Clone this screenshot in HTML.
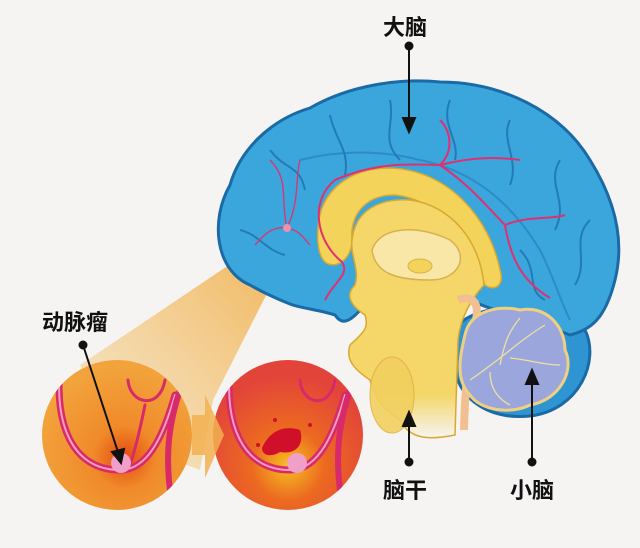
<!DOCTYPE html>
<html><head><meta charset="utf-8"><style>
html,body{margin:0;padding:0;background:#f5f4f2;}
svg{display:block}
text{font-family:"Liberation Sans","Noto Sans CJK SC",sans-serif;font-weight:bold;font-size:22px;fill:#111}
</style></head><body>
<svg width="640" height="548" viewBox="0 0 640 548" xmlns="http://www.w3.org/2000/svg">
<defs>
<linearGradient id="cone" x1="1" y1="0" x2="0" y2="1">
<stop offset="0" stop-color="#f0a838" stop-opacity="0.9"/>
<stop offset="1" stop-color="#f6d9a6" stop-opacity="0.5"/>
</linearGradient>
<radialGradient id="c1" cx="0.55" cy="0.65" r="0.6">
<stop offset="0" stop-color="#e44a10"/><stop offset="0.35" stop-color="#f08a2a"/><stop offset="1" stop-color="#f2a33c"/>
</radialGradient>
<radialGradient id="c2" cx="0.5" cy="0.7" r="0.6">
<stop offset="0" stop-color="#f6c020"/><stop offset="0.4" stop-color="#ec6a20"/><stop offset="1" stop-color="#e2443a"/>
</radialGradient>
<linearGradient id="stem" x1="0" y1="0" x2="0" y2="1">
<stop offset="0.82" stop-color="#f4d768"/><stop offset="1" stop-color="#f5f4f2"/>
</linearGradient>
<clipPath id="cl1"><circle cx="117" cy="435" r="75"/></clipPath>
<clipPath id="cl2"><circle cx="288" cy="435" r="75"/></clipPath>
</defs>

<!-- cone -->
<polygon points="287,226 296,236 213,400 200,470 120,440 80,365" fill="url(#cone)"/>

<!-- cerebellum lower blue lobe -->
<path d="M455,330 C470,300 560,300 585,330 C600,360 580,410 530,416 C490,420 460,400 455,370Z" fill="#2f95d2" stroke="#1a6aa6" stroke-width="3"/>
<!-- cerebrum -->
<path d="M250,285 C215,270 210,220 230,185 C240,150 270,120 310,108 C350,85 400,78 440,82 C500,82 560,110 590,160 C615,200 625,240 615,280 C605,320 590,330 570,335 C530,320 490,310 470,300 C440,290 400,280 370,300 C355,315 345,330 335,315 C320,310 300,308 290,304 C275,298 262,292 250,285Z" fill="#3aa6dc" stroke="#1a6aa6" stroke-width="3"/>
<!-- gyri lines -->
<g fill="none" stroke="#1a6aa6" stroke-width="2" opacity="0.7">
<path d="M270,150 C285,170 300,165 305,190"/><path d="M330,115 C335,140 350,150 345,175"/><path d="M390,100 C395,125 380,140 400,160"/>
<path d="M450,100 C440,125 460,140 455,160"/><path d="M510,120 C500,140 520,160 510,185"/><path d="M560,160 C545,185 570,200 555,230"/>
<path d="M590,220 C570,240 590,260 575,285"/><path d="M240,230 C260,235 265,250 285,255"/><path d="M520,250 C540,270 525,290 545,300"/>
<path d="M300,160 C340,150 380,150 420,160 C470,170 510,200 540,250 C555,280 560,300 570,320" opacity="0.6"/>
</g>
<!-- corpus callosum -->
<path d="M318,228 C320,190 350,168 390,168 C450,170 490,220 500,270 C505,285 495,292 485,285 C470,250 445,200 395,195 C365,195 350,215 352,240 C352,260 335,270 325,262 C318,255 317,240 318,228Z" fill="#f4d35a" stroke="#d9a830" stroke-width="1.5"/>
<!-- thalamus / inner -->
<path d="M352,240 C355,210 380,198 410,200 C450,205 480,240 484,285 C470,300 460,320 458,340 L455,435 C430,440 410,440 400,420 C385,410 375,400 370,380 C355,370 345,360 350,345 C360,335 370,330 365,315 C350,305 345,295 355,285 C360,270 350,255 352,240Z" fill="url(#stem)" stroke="#d9a830" stroke-width="1.5"/>
<path d="M372,250 C380,225 420,225 450,240 C470,255 460,280 430,280 C400,280 375,275 372,250Z" fill="#f8e7a6" stroke="#d9b050" stroke-width="1.5"/>
<ellipse cx="420" cy="266" rx="12" ry="7" fill="#f4d35a" stroke="#d9b050"/>
<ellipse cx="392" cy="395" rx="22" ry="38" fill="#f2d060" stroke="#e0b040" opacity="0.9"/>
<path d="M458,300 C470,295 480,300 476,320 C470,350 465,380 464,430" fill="none" stroke="#f2c090" stroke-width="8"/>
<!-- cerebellum -->
<path d="M465,335 C470,310 500,305 520,310 C545,305 565,325 565,350 C575,370 560,400 530,405 C510,415 480,410 470,395 C455,380 460,355 465,335Z" fill="#9aa6dc" stroke="#f0d080" stroke-width="3"/>
<g fill="none" stroke="#f0e0a0" stroke-width="1.3">
<path d="M470,380 C500,360 520,340 545,325"/><path d="M500,365 C505,340 510,330 520,318"/><path d="M510,358 C530,360 545,365 560,365"/><path d="M490,372 C490,390 500,400 510,405"/>
</g>
<!-- arteries -->
<g fill="none" stroke="#e03070" stroke-width="2">
<path d="M325,300 C335,280 350,275 342,262 C315,240 310,200 335,180 C380,160 420,165 440,165 C470,185 490,210 505,225 C510,255 520,280 550,298"/>
<path d="M440,165 C455,150 450,130 440,120"/><path d="M440,165 C480,155 505,158 520,160"/><path d="M505,225 C530,215 550,220 565,215"/>
</g>
<g fill="none" stroke="#e03070" stroke-width="1.3">
<path d="M287,228 C280,200 290,180 270,160"/><path d="M287,228 C300,200 295,180 300,160"/><path d="M287,228 C270,225 260,240 255,245"/><path d="M287,228 C300,230 305,240 310,245"/>
</g>
<circle cx="287" cy="228" r="4" fill="#f090a8"/>

<!-- circles -->
<circle cx="117" cy="435" r="75" fill="url(#c1)"/>
<g clip-path="url(#cl1)" fill="none" stroke-linecap="round">
<path d="M60,370 C55,420 70,470 120,470 C150,470 165,430 175,395" stroke="#d82a6a" stroke-width="7"/>
<path d="M60,370 C55,420 70,470 120,470 C150,470 165,430 175,395" stroke="#f6a0c0" stroke-width="2"/>
<path d="M128,380 C130,405 160,410 165,380" stroke="#d82a6a" stroke-width="3"/>
<path d="M145,405 C140,430 135,450 130,465" stroke="#d82a6a" stroke-width="3"/>
<path d="M180,390 C170,420 165,450 170,490" stroke="#d82a6a" stroke-width="6"/>
</g>
<circle cx="121" cy="463" r="10" fill="#f0a0c8"/>
<circle cx="288" cy="435" r="75" fill="url(#c2)"/>
<g clip-path="url(#cl2)" fill="none" stroke-linecap="round">
<path d="M230,370 C225,420 240,470 290,470 C320,470 335,430 345,395" stroke="#d82a6a" stroke-width="7"/>
<path d="M230,370 C225,420 240,470 290,470 C320,470 335,430 345,395" stroke="#f6a0c0" stroke-width="2"/>
<path d="M300,380 C302,405 330,410 335,380" stroke="#d82a6a" stroke-width="3"/>
<path d="M350,390 C340,420 335,450 340,490" stroke="#d82a6a" stroke-width="6"/>
</g>
<circle cx="297" cy="463" r="10" fill="#f0a0c8"/>
<path d="M262,448 C270,430 285,425 300,430 C305,445 295,455 280,452 C270,458 262,455 262,448Z" fill="#d0102a"/>
<circle cx="258" cy="445" r="2" fill="#d0102a"/><circle cx="310" cy="425" r="2" fill="#d0102a"/><circle cx="275" cy="420" r="2" fill="#d0102a"/>
<!-- arrow between -->
<polygon points="192,415 205,415 205,395 224,435 205,478 205,455 192,455" fill="#f2b050" opacity="0.85"/>

<!-- leader lines -->
<g stroke="#111" stroke-width="2" fill="#111">
<line x1="409" y1="46" x2="409" y2="120"/><polygon points="403,118 415,118 409,132"/><circle cx="409" cy="46" r="3.5"/>
<line x1="409" y1="462" x2="409" y2="425"/><polygon points="403,426 415,426 409,412"/><circle cx="409" cy="462" r="3.5"/>
<line x1="532" y1="462" x2="532" y2="382"/><polygon points="526,384 538,384 532,370"/><circle cx="532" cy="462" r="3.5"/>
<line x1="83" y1="345" x2="118" y2="452"/><polygon points="112,452 124,449 121,463"/><circle cx="83" cy="345" r="3.5"/>
</g>

<text x="383" y="35">大脑</text>
<text x="42" y="330">动脉瘤</text>
<text x="383" y="498">脑干</text>
<text x="510" y="498">小脑</text>
</svg>
</body></html>
